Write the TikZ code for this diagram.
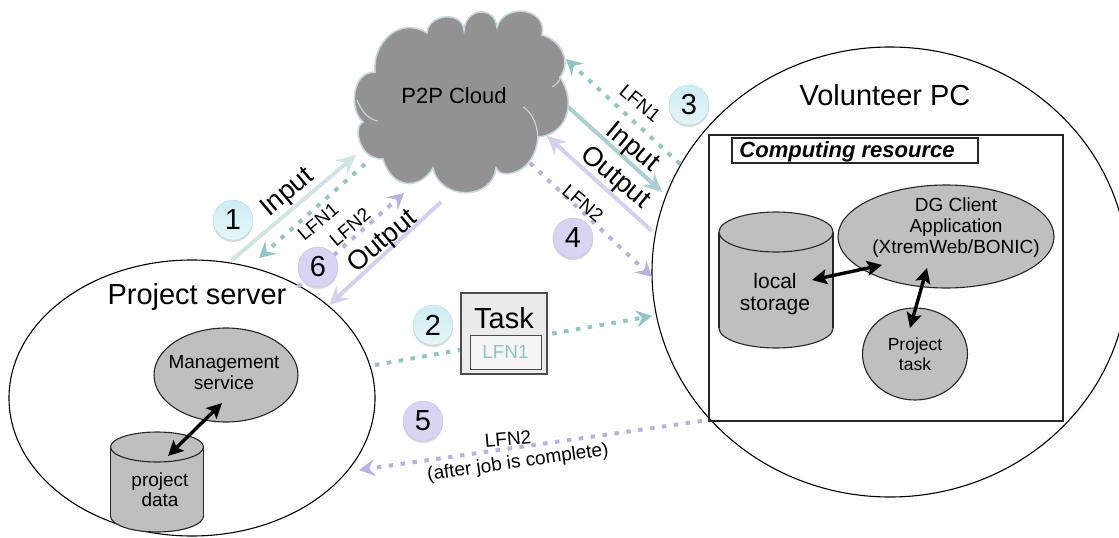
\documentclass[tikz,border=0pt]{standalone}
\usepackage{fontspec}
\setmainfont{Liberation Sans}
\usetikzlibrary{arrows.meta,shadows,shapes.geometric}

\definecolor{inputlight}{HTML}{CFE5E5}
\definecolor{inputmid}{HTML}{A9D0D2}
\definecolor{inputdark}{HTML}{8FC6C8}
\definecolor{outputlight}{HTML}{D3D1F0}
\definecolor{outputdark}{HTML}{B4B3E6}
\definecolor{storegray}{HTML}{BFBFBF}
\definecolor{cloudgray}{HTML}{929292}
\definecolor{cloudedge}{HTML}{C4DADC}
\definecolor{badgetop}{HTML}{CDECF4}
\definecolor{badgebottom}{HTML}{E6F7F7}
\definecolor{badgeedge}{HTML}{B3DCF2}

\tikzset{
  bigtext/.style={font=\fontsize{29}{32}\selectfont},
  midtext/.style={font=\fontsize{22}{26}\selectfont, align=center},
  smalltext/.style={font=\fontsize{19}{22}\selectfont, align=center},
  arrowtext/.style={font=\fontsize{27}{30}\selectfont},
  solidarrow/.style={line width=4pt, -{Stealth[length=19pt,width=18pt,inset=7pt]}},
  dotarrow/.style={line width=4pt, dash pattern=on 4.5pt off 7.5pt, -{Stealth[length=16pt,width=17pt,inset=6pt]}},
  blackarrow/.style={line width=3.4pt, black, {Stealth[length=15pt,width=15pt,inset=3pt]}-{Stealth[length=15pt,width=15pt,inset=3pt]}},
  blob/.style={ellipse, draw=black!85, line width=1.1pt, fill=storegray, align=center, inner sep=0pt},
  side/.style={draw=black!85, line width=1.1pt},
  bluebadge/.style={circle, minimum size=40pt, inner sep=0pt, draw=badgeedge, top color=badgetop, bottom color=badgebottom, drop shadow={shadow xshift=0pt, shadow yshift=-2pt, opacity=0.3}, bigtext},
  violetbadge/.style={circle, minimum size=40pt, inner sep=0pt, draw=outputdark!80, fill=outputlight!90, drop shadow={shadow xshift=0pt, shadow yshift=-2pt, opacity=0.3}, bigtext},
  cloudarc/.style={draw=cloudedge, line width=1.1pt},
}

\begin{document}
\begin{tikzpicture}[x=1pt,y=-1pt]
\useasboundingbox (0,0) rectangle (1119,538);

\node[ellipse, draw=black, line width=1.1pt, minimum width=366pt, minimum height=276pt, inner sep=0pt] (server) at (192,398) {};
\node[ellipse, draw=black, line width=1.1pt, minimum width=476pt, minimum height=450pt, inner sep=0pt] (volunteer) at (890,272) {};

\coordinate (in1a) at (232,260);
\coordinate (in1b) at (356,155);
\coordinate (lfn1a) at (365,164);
\coordinate (lfn1b) at (259,258);
\coordinate (lfn2a) at (298,287);
\coordinate (lfn2b) at (404,193);
\coordinate (out1a) at (441,202);
\coordinate (out1b) at (329,305);
\coordinate (in2a) at (566,105);
\coordinate (in2b) at (662,192);
\coordinate (lfn3a) at (680,164);
\coordinate (lfn3b) at (566,59);
\coordinate (out2a) at (652,231);
\coordinate (out2b) at (547,136);
\coordinate (lfn4a) at (530,163);
\coordinate (lfn4b) at (652,277);
\coordinate (task1a) at (375,365);
\coordinate (task1b) at (652,316);
\coordinate (done1a) at (702,421);
\coordinate (done1b) at (359,470);

\draw[solidarrow, inputmid] (in2a) -- (in2b);
\draw[solidarrow, outputlight] (out2a) -- (out2b);
\draw[dotarrow, outputdark] (lfn4a) -- (lfn4b);

\draw[draw=cloudedge, line width=1.6pt, fill=cloudgray] (375,72)
  .. controls (372,45) and (398,15) .. (427,33)
  .. controls (428,14) and (462,10) .. (464,30)
  .. controls (466,7) and (495,6) .. (497,27)
  .. controls (505,2) and (548,8) .. (542,35)
  .. controls (565,42) and (570,65) .. (560,77)
  .. controls (578,105) and (565,135) .. (538,137)
  .. controls (535,175) and (500,180) .. (496,168)
  .. controls (492,201) and (440,201) .. (433,168)
  .. controls (420,190) and (392,190) .. (383,159)
  .. controls (358,160) and (353,125) .. (363,122)
  .. controls (350,112) and (350,72) .. (375,72) -- cycle;
\draw[cloudarc] (357,100) .. controls (362,113) and (370,120) .. (378,121);
\draw[cloudarc] (523,107) .. controls (533,113) and (537,125) .. (538,137);
\draw[cloudarc] (552,87) .. controls (557,84) and (561,80) .. (560,77);
\node[midtext] (cloudname) at (454,96) {P2P Cloud};

\node[draw=black!85, line width=1.1pt, minimum width=354pt, minimum height=286pt, inner sep=0pt] (resource) at (886,278) {};
\node[draw=black!85, line width=1.1pt, minimum width=246pt, minimum height=25pt, inner sep=0pt] (resourcebox) at (855,150.5) {};
\node[font=\fontsize{22}{26}\selectfont\bfseries\itshape] (resourcename) at (847,152) {Computing resource};

\draw[solidarrow, inputlight] (in1a) -- (in1b);
\draw[dotarrow, inputdark] (lfn1a) -- (lfn1b);
\draw[dotarrow, outputdark] (lfn2a) -- (lfn2b);
\draw[solidarrow, outputlight] (out1a) -- (out1b);
\draw[dotarrow, inputdark] (lfn3a) -- (lfn3b);
\draw[dotarrow, inputdark] (task1a) -- (task1b);
\draw[dotarrow, outputdark] (done1a) -- (done1b);

\node[draw=black!70, line width=1.1pt, fill=black!8, minimum width=86pt, minimum height=81pt, inner sep=0pt] (task) at (504,333.5) {};
\node[bigtext] (taskname) at (504,318) {Task};
\node[draw=black!70, line width=1pt, fill=black!4, minimum width=71pt, minimum height=34pt, inner sep=0pt, text=inputdark, font=\fontsize{19}{22}\selectfont] (lfnbox) at (505.5,352) {LFN1};

\node[blob, minimum width=114pt, minimum height=40pt] (localbase) at (776,328) {};
\fill[storegray] (719,232) rectangle (833,328);
\draw[side] (719,232) -- (719,328);
\draw[side] (833,232) -- (833,328);
\node[blob, minimum width=114pt, minimum height=40pt] (localcap) at (776,232) {};
\node[font=\fontsize{21}{22}\selectfont, align=center] (localname) at (775,294) {local\\storage};

\node[blob, minimum width=93pt, minimum height=32pt] (database) at (157,516) {};
\fill[storegray] (110.5,447) rectangle (203.5,516);
\draw[side] (110.5,447) -- (110.5,516);
\draw[side] (203.5,447) -- (203.5,516);
\node[blob, minimum width=93pt, minimum height=30pt] (datacap) at (157,447) {};
\node[font=\fontsize{19}{20}\selectfont, align=center] (dataname) at (160,490) {project\\data};

\node[blob, minimum width=216pt, minimum height=103pt] (client) at (946,236.5) {};
\node[font=\fontsize{19}{21}\selectfont, align=center] (clientname) at (956,228) {DG Client\\Application\\(XtremWeb/BONIC)};
\node[blob, minimum width=105pt, minimum height=92pt, font=\fontsize{17.5}{19.5}\selectfont] (projecttask) at (915,354) {Project\\task};
\node[blob, minimum width=144pt, minimum height=94pt] (manage) at (226,375) {};
\node[font=\fontsize{19}{21}\selectfont, align=center] (managename) at (224,372.5) {Management\\service};

\coordinate (storetip) at (812,280);
\coordinate (clienttipa) at (882,265);
\coordinate (clienttipb) at (927,268);
\coordinate (tasktip) at (910,328);
\coordinate (managetip) at (222,403);
\coordinate (datatip) at (168,456);
\draw[blackarrow] (storetip) -- (clienttipa);
\draw[blackarrow] (clienttipb) -- (tasktip);
\draw[blackarrow] (managetip) -- (datatip);

\node[bigtext] (servername) at (197,297) {Project server};
\node[bigtext] (volunteername) at (885,95) {Volunteer PC};

\node[arrowtext, rotate=40] (inputa) at (288,193) {Input};
\node[arrowtext, rotate=40] (outputa) at (383,242) {Output};
\node[arrowtext, rotate=-40] (inputb) at (632,148) {Input};
\node[arrowtext, rotate=-40] (outputb) at (615,178) {Output};
\node[smalltext, rotate=40] (lfna) at (318,222) {LFN1};
\node[smalltext, rotate=40] (lfnb) at (350,227) {LFN2};
\node[smalltext, rotate=-40] (lfnc) at (640,103) {LFN1};
\node[smalltext, rotate=-40] (lfnd) at (583,203) {LFN2};
\node[smalltext, rotate=5] (lfne) at (508,439) {LFN2};
\node[smalltext, rotate=8] (after) at (518,463) {(after job is complete)};

\node[bluebadge] (one) at (233,220) {1};
\node[bluebadge] (two) at (433,325) {2};
\node[bluebadge] (three) at (689,105) {3};
\node[violetbadge] (four) at (573,238) {4};
\node[violetbadge] (five) at (423,421) {5};
\node[violetbadge] (six) at (318,267) {6};

\end{tikzpicture}
\end{document}
